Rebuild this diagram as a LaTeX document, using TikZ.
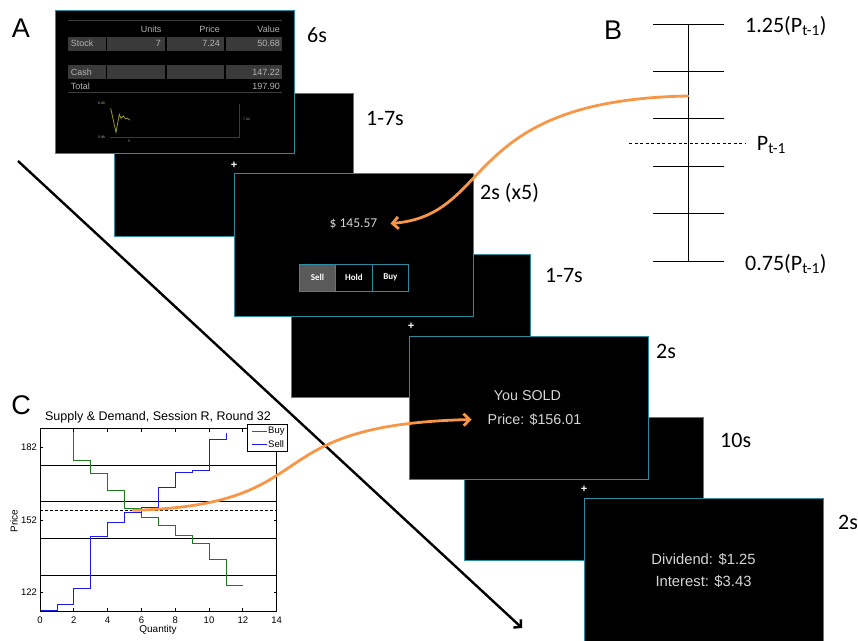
\documentclass[tikz,border=0pt]{standalone}
\usepackage{fontspec}
\setmainfont{Liberation Sans}
\newfontfamily\slidefont{Carlito}
\usetikzlibrary{arrows.meta,positioning}
\definecolor{scrteal}{HTML}{2A8C9E}
\definecolor{flow}{HTML}{F79646}
\definecolor{scrtext}{HTML}{D6D6D6}
\definecolor{tabgray}{HTML}{B4B4B4}
\definecolor{cellgray}{HTML}{3A3A3A}
\definecolor{btngray}{HTML}{5A5A5A}
\definecolor{miniyellow}{HTML}{9A9A22}
\definecolor{buygreen}{HTML}{1C7A1C}
\definecolor{sellblue}{HTML}{1A1AF0}
\newcommand\px[1]{\fontsize{#1pt}{#1pt}\selectfont}

\begin{document}
\begin{tikzpicture}[x=1pt,y=-1pt,
  screen/.style={draw=scrteal,fill=black,line width=1.4pt,minimum width=239pt,
    minimum height=143pt,inner sep=0pt,anchor=north west},
  fixmark/.style={text=white,font=\bfseries\px{11},inner sep=0pt},
  timing/.style={font=\slidefont\px{22},anchor=base west,inner sep=0pt},
  blabel/.style={font=\slidefont\px{22},anchor=base west,inner sep=0pt},
  tabtext/.style={text=tabgray,font=\px{9},inner sep=0pt},
  scrt/.style={text=scrtext,inner sep=0pt},
  btn/.style={draw=scrteal,line width=1pt,minimum width=36.5pt,minimum height=27pt,
    inner sep=0pt,outer sep=0pt,font=\slidefont\bfseries\px{9},text=white},
  flowarrow/.style={flow,line width=2.8pt,line cap=round,-{Straight Barb[length=6pt,width=12pt]}},
  panel/.style={font=\px{27},inner sep=0pt},
  axtext/.style={font=\px{9.5},inner sep=0pt}]
  \useasboundingbox (0,0) rectangle (858,640);

  \node[panel] (pa) at (21,28) {A};
  \node[panel] (pb) at (613,30) {B};
  \node[panel] (pc) at (21,405) {C};

  % fixation screens lie underneath
  \foreach \n/\x/\y in {2/114/93,4/291/254,6/464/417}{
    \node[screen] (s\n) at (\x,\y) {};
    \node[fixmark] (f\n) at (s\n.center) {+};
  }

  % portfolio screen
  \node[screen] (s1) at (55,9.5) {};
  \draw[cellgray,line width=0.8pt] (68.3,20.7) -- (282.3,20.7);
  \draw[cellgray,line width=0.8pt] (68.3,92.7) -- (282.3,92.7);
  \foreach \a/\b in {68.3/105.7,107.3/165,166.7/224.3,226/282.3}{
    \fill[cellgray] (\a,36.7) rectangle (\b,51);
    \fill[cellgray] (\a,65) rectangle (\b,79);
  }
  \foreach \t/\x [count=\i] in {Units/161.7,Price/220,Value/280}
    \node[tabtext,anchor=east] (h\i) at (\x,29) {\t};
  \node[tabtext,anchor=west] (stock) at (70.7,43.5) {Stock};
  \foreach \t/\x [count=\i] in {7/161,7.24/220,50.68/280}
    \node[tabtext,anchor=east] (v\i) at (\x,43.5) {\t};
  \node[tabtext,anchor=west] (cash) at (70.7,72) {Cash};
  \node[tabtext,anchor=east] (cashv) at (280,72) {147.22};
  \node[tabtext,anchor=west] (total) at (70.7,86) {Total};
  \node[tabtext,anchor=east] (totalv) at (280,86) {197.90};
  \draw[cellgray,line width=0.5pt] (110,137.5) -- (239.3,137.5);
  \draw[cellgray,line width=0.5pt] (239.3,104) -- (239.3,137.5);
  \draw[miniyellow,line width=0.8pt] (110.7,108.3) -- (116,132.3) -- (119.3,114.3) -- (121,118.3)
    -- (123.3,116) -- (125.7,119) -- (127.3,118.3) -- (130,120);
  \node[tabtext,font=\px{3.5}] (mhi) at (101.5,103.5) {8.40};
  \node[tabtext,font=\px{3.5}] (mlo) at (101.5,137.5) {5.98};
  \node[tabtext,font=\px{3.5}] (mnow) at (246.5,119.5) {7.24};
  \node[tabtext,font=\px{3.5}] (mt) at (129,141.5) {5};

  % price screen
  \node[screen] (s3) at (234,173) {};
  \node[scrt,font=\slidefont\px{13.5}] (p3) at (353.5,223.5) {\$ 145.57};
  \node[btn,fill=btngray] (sell) at (317.4,277.5) {Sell};
  \node[btn,right=0pt of sell] (hold) {Hold};
  \node[btn,right=0pt of hold] (buy) {Buy};

  % outcome screen
  \node[screen] (s5) at (409,336) {};
  \node[scrt,font=\px{14.3}] (sold1) at (527.5,396) {You SOLD};
  \node[scrt,font=\px{14.3}] (sold2) at (534.5,419.5) {Price: \$156.01};

  % dividend screen
  \node[screen] (s7) at (584,498) {};
  \node[scrt,font=\px{14.8}] (div) at (703.5,560) {Dividend: \$1.25};
  \node[scrt,font=\px{14.8}] (int) at (703.5,582) {Interest: \$3.43};

  \foreach \t/\x/\y [count=\i] in {6s/307/42,1-7s/366/125,2s (x5)/480/199,1-7s/545/282,
      2s/656/358,10s/720/447,2s/838/529}
    \node[timing] (t\i) at (\x,\y) {\t};

  % time line
  \coordinate (tstart) at (18,161);
  \coordinate (tend) at (522,628);
  \draw[line width=2.4pt,-{Straight Barb[length=5pt,width=11pt]}] (tstart) -- (tend);

  % price scale
  \coordinate (btop) at (688,24);
  \coordinate (bbot) at (688,261);
  \coordinate (pnow) at (688,96);
  \draw[line width=0.9pt] (btop) -- (bbot);
  \foreach \y in {24,71.4,118.8,166.2,213.6,261}
    \draw[line width=0.9pt] (653,\y) -- (724,\y);
  \draw[line width=0.8pt,dash pattern=on 3pt off 2.5pt] (629.3,143) -- (745,143);
  \node[blabel] (bhi) at (745,32.3) {1.25(P\textsubscript{t-1})};
  \node[blabel] (bmid) at (756.7,150) {P\textsubscript{t-1}};
  \node[blabel] (blo) at (745,270) {0.75(P\textsubscript{t-1})};

  % supply and demand chart
  \node[font=\px{12.5},inner sep=0pt] (ctitle) at (158,417) {Supply \& Demand, Session R, Round 32};
  \begin{scope}[shift={(40pt,-886.32pt)},x=16.9pt,y=2.41pt,line width=0.8pt]
    \foreach \p in {129.2,144.4,159.6,174.8}
      \draw (0,\p) -- (14,\p);
    \draw[dash pattern=on 3pt off 2pt] (0,156.01) -- (14,156.01);
    \draw[buygreen] (0,190) -| (2,176.7) -| (3,171.2) -| (4,164.2) -| (5,156.7) -| (6,153.2)
      -| (7,149.8) -| (8,145.6) -| (9,142.2) -| (10,135.5) -| (11,124.9) -- (12,124.9);
    \draw[sellblue] (0,114.4) -| (1,116.9) -| (2,123.5) -| (3,145.4) -| (4,151.2) -| (5,155.3)
      -| (6,157.4) -| (7,165.7) -| (8,171.9) -| (9,172.6) -| (10,185.5) -| (11,188.2);
    \draw (0,114) rectangle (14,190);
    \foreach \q in {0,2,...,14}{
      \draw (\q,114) -- ++(0,1.3);
      \draw (\q,190) -- ++(0,-1.3);
      \node[axtext,anchor=north,yshift=-5pt] (xq\q) at (\q,114) {\q};
    }
    \foreach \p in {122,152,182}{
      \draw (0,\p) -- ++(0.18,0);
      \draw (14,\p) -- ++(-0.18,0);
      \node[axtext,anchor=east,xshift=-2.7pt] (yp\p) at (0,\p) {\p};
    }
    \coordinate (cross) at (5.5,156.01);
  \end{scope}
  \node[axtext,font=\px{10},rotate=90] (ylab) at (14,521) {Price};
  \node[axtext,font=\px{10}] (xlab) at (158,630) {Quantity};
  \draw[fill=white,line width=0.8pt] (247.3,424.3) rectangle (287.3,451);
  \draw[buygreen,line width=0.8pt] (252,431.7) -- (266.7,431.7);
  \draw[sellblue,line width=0.8pt] (252,444.3) -- (266.7,444.3);
  \node[axtext,anchor=west] (lbuy) at (268,431.7) {Buy};
  \node[axtext,anchor=west] (lsell) at (268,444.3) {Sell};

  % links
  \draw[flowarrow] (pnow) .. controls (460,100) and (495,215) .. ([xshift=13pt]p3.east);
  \draw[flowarrow] (cross) .. controls (330,505) and (250,425) .. ([xshift=-16pt]sold2.west);
\end{tikzpicture}
\end{document}
